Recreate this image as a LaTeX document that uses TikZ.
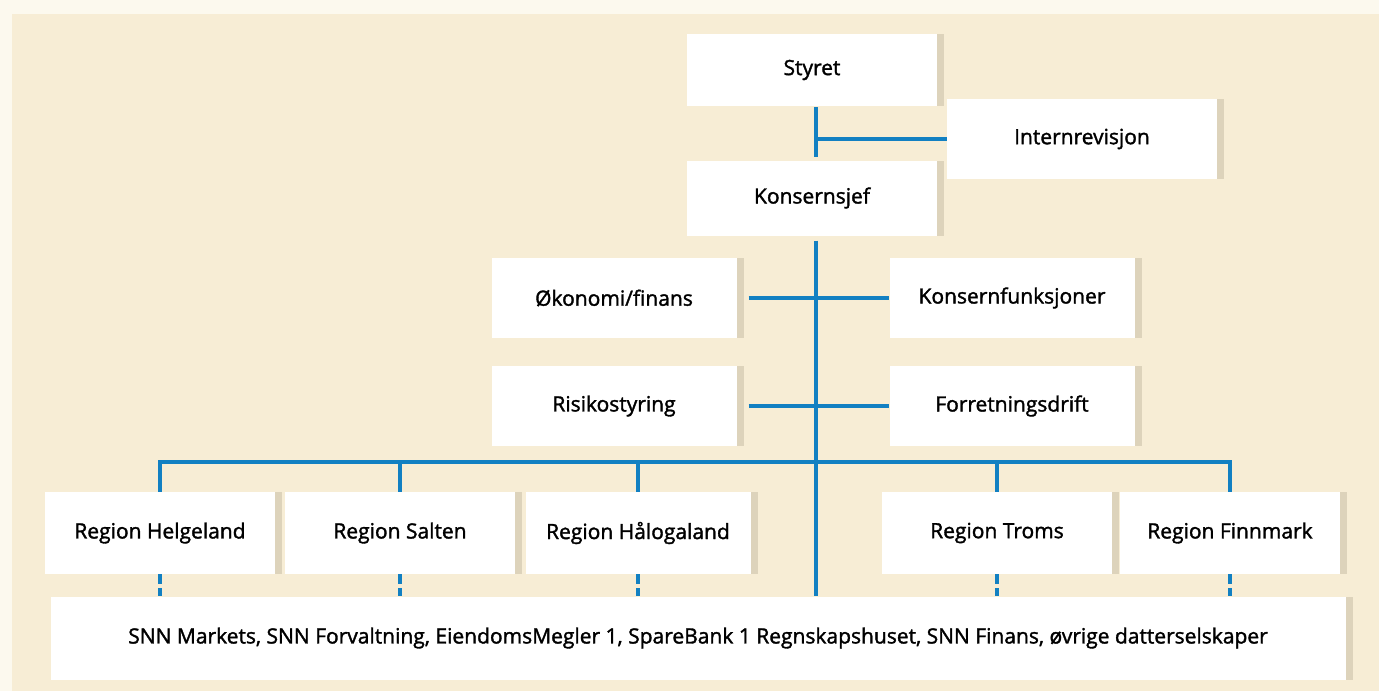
\documentclass[tikz,border=0pt]{standalone}
\usepackage{fontspec}
\usetikzlibrary{shadows}
\newfontfamily\lbl[FakeBold=1.6]{Open Sans}
\definecolor{bg}{RGB}{247,237,213}
\definecolor{edgec}{RGB}{252,249,238}
\definecolor{shadowc}{RGB}{205,195,170}
\definecolor{linec}{RGB}{18,128,194}
\tikzset{
  box/.style={fill=white, inner sep=0pt, font=\lbl\fontsize{21}{24}\selectfont, text=black,
    drop shadow={shadow xshift=7pt, shadow yshift=0pt, fill=shadowc, opacity=0.6}},
  conn/.style={draw=linec, line width=3.2pt},
  dconn/.style={draw=linec, line width=3.2pt, dash pattern=on 10pt off 4pt on 10pt off 0pt}
}
\begin{document}
\begin{tikzpicture}[x=1pt,y=-1pt]
\useasboundingbox (0,0) rectangle (1379,691);
\fill[edgec] (0,0) rectangle (1379,691);
\fill[bg] (12,14) rectangle (1379,691);
% top row
\node[box, minimum width=250pt, minimum height=72pt] (sty) at (812,70) {Styret};
\node[box, minimum width=270pt, minimum height=80pt] (int) at (1082,139) {Internrevisjon};
\node[box, minimum width=250pt, minimum height=75pt] (kon) at (812,198) {Konsernsjef};
% staff
\node[box, minimum width=245pt, minimum height=80pt] (oko) at (614,298) {Økonomi/finans};
\node[box, minimum width=245pt, minimum height=80pt] (kf) at (1012,298) {Konsernfunksjoner};
\node[box, minimum width=245pt, minimum height=80pt] (ris) at (614,406) {Risikostyring};
\node[box, minimum width=245pt, minimum height=80pt] (forr) at (1012,406) {Forretningsdrift};
% regions
\node[box, minimum width=230pt, minimum height=82pt] (hel) at (160,533) {Region Helgeland};
\node[box, minimum width=230pt, minimum height=82pt] (sal) at (400,533) {Region Salten};
\node[box, minimum width=225pt, minimum height=82pt] (hal) at (638,533) {Region Hålogaland};
\node[box, minimum width=230pt, minimum height=82pt] (tro) at (997,533) {Region Troms};
\node[box, minimum width=220pt, minimum height=82pt] (fin) at (1230,533) {Region Finnmark};
% bottom
\node[box, minimum width=1295pt, minimum height=83pt] (bot) at (698,638) {SNN Markets, SNN Forvaltning, EiendomsMegler 1, SpareBank 1 Regnskapshuset, SNN Finans, øvrige datterselskaper};
% connectors
\coordinate (bus) at (816,462);
\draw[conn, shorten <=1pt, shorten >=3pt] ([xshift=4pt]sty.south) -- ([xshift=4pt]kon.north);
\draw[conn] (int.west) -- (int.west -| bus);
\draw[conn, shorten <=5pt] (kon.south -| bus) -- (bot.north -| bus);
\draw[conn, shorten <=12pt] (oko.east) -- (kf.west);
\draw[conn, shorten <=12pt] (ris.east) -- (forr.west);
\draw[conn] (hel.north) -- (hel.north |- bus) -- (fin.north |- bus) -- (fin.north);
\draw[conn] (sal.north) -- (sal.north |- bus);
\draw[conn] (hal.north) -- (hal.north |- bus);
\draw[conn] (tro.north) -- (tro.north |- bus);
\draw[dconn] (hel.south) -- (hel.south |- bot.north);
\draw[dconn] (sal.south) -- (sal.south |- bot.north);
\draw[dconn] (hal.south) -- (hal.south |- bot.north);
\draw[dconn] (tro.south) -- (tro.south |- bot.north);
\draw[dconn] (fin.south) -- (fin.south |- bot.north);
\end{tikzpicture}
\end{document}
